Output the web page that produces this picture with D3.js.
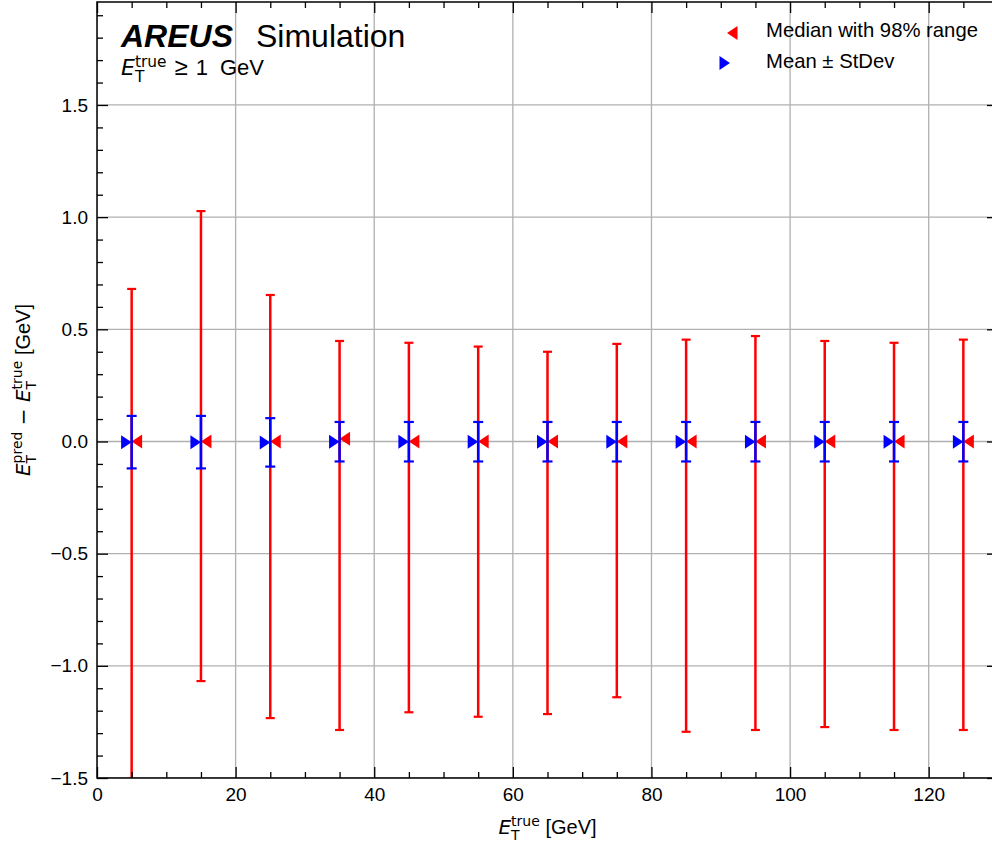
<!DOCTYPE html>
<html>
<head>
<meta charset="utf-8">
<script src="https://cdn.jsdelivr.net/npm/d3@7"></script>
<style>
  body { margin: 0; background: #fff; }
  svg { display: block; }
</style>
</head>
<body>
<div id="graph"></div>
<script>
// Data
const binCenters = [5, 15, 25, 35, 45, 55, 65, 75, 85, 95, 105, 115, 125];
const medianVals = [0.0, 0.0, 0.0, 0.012, 0.0, 0.0, 0.0, 0.0, 0.0, 0.0, 0.0, 0.0, 0.0];
const rangeLow = [-1.9, -1.068, -1.233, -1.286, -1.207, -1.227, -1.215, -1.140, -1.294, -1.286, -1.273, -1.286, -1.286];
const rangeHigh = [0.680, 1.027, 0.653, 0.448, 0.440, 0.423, 0.400, 0.435, 0.454, 0.470, 0.448, 0.440, 0.454];
const meanVals = [-0.003, -0.003, -0.004, -0.001, -0.001, -0.001, -0.001, -0.001, -0.001, -0.001, -0.001, -0.001, -0.001];
const stdVals = [0.117, 0.117, 0.108, 0.088, 0.088, 0.088, 0.088, 0.088, 0.088, 0.088, 0.088, 0.088, 0.088];

const xMajor = [0, 20, 40, 60, 80, 100, 120];
const xMinor = d3.range(0, 131, 5).filter(v => v % 20 !== 0);
const yMajor = [-1.5, -1.0, -0.5, 0.0, 0.5, 1.0, 1.5];
const yMinor = d3.range(-15, 20, 1).map(v => v / 10).filter(v => Math.abs(v * 2 - Math.round(v * 2)) > 1e-6);

const WIDTH = 992, HEIGHT = 843;
const plot = {left: 97, top: 2, right: 998, bottom: 778};
const TXT = "'Liberation Sans', Arial, Helvetica, sans-serif";
const MATH = "'DejaVu Sans', sans-serif";
const RED = "#ff0000", BLUE = "#0000ff";

let svg = d3.select("#graph")
    .append("svg")
    .attr("width", WIDTH)
    .attr("height", HEIGHT)
    .style("font-family", TXT);

svg.append("rect").attr("width", WIDTH).attr("height", HEIGHT).attr("fill", "white");

let x = d3.scaleLinear().domain([0, 130]).range([plot.left, plot.right]);
let y = d3.scaleLinear().domain([-1.5, 1.959]).range([plot.bottom, plot.top]);

svg.append("clipPath").attr("id", "clip")
    .append("rect")
    .attr("x", plot.left).attr("y", plot.top)
    .attr("width", plot.right - plot.left).attr("height", plot.bottom - plot.top);

// grid
let grid = svg.append("g").attr("clip-path", "url(#clip)");
grid.selectAll(".gx").data(xMajor).enter().append("line")
    .attr("x1", d => x(d)).attr("x2", d => x(d))
    .attr("y1", plot.top).attr("y2", plot.bottom)
    .attr("stroke", "#b0b0b0").attr("stroke-width", 1.3);
grid.selectAll(".gy").data(yMajor).enter().append("line")
    .attr("x1", plot.left).attr("x2", plot.right)
    .attr("y1", d => y(d)).attr("y2", d => y(d))
    .attr("stroke", "#b0b0b0").attr("stroke-width", 1.3);

const points = binCenters.map((c, i) => ({
    x: c, med: medianVals[i], lo: rangeLow[i], hi: rangeHigh[i],
    mean: meanVals[i], sd: stdVals[i]
}));

// marker shapes, tip sitting on the point
const mw = 10.5, mh = 14;
const caretLeft = `M0,0L${mw},${-mh / 2}L${mw},${mh / 2}Z`;
const caretRight = `M0,0L${-mw},${-mh / 2}L${-mw},${mh / 2}Z`;

function drawErrorBars(g, lo, hi, color, cap) {
    g.selectAll(".bar").data(points).enter().append("line")
        .attr("x1", d => x(d.x)).attr("x2", d => x(d.x))
        .attr("y1", d => y(lo(d))).attr("y2", d => y(hi(d)))
        .attr("stroke", color).attr("stroke-width", 2.5);
    [lo, hi].forEach(f => {
        g.selectAll(".cap").data(points).enter().append("line")
            .attr("x1", d => x(d.x) - cap).attr("x2", d => x(d.x) + cap)
            .attr("y1", d => y(f(d))).attr("y2", d => y(f(d)))
            .attr("stroke", color).attr("stroke-width", 2.2);
    });
}

let data = svg.append("g").attr("clip-path", "url(#clip)");

let redG = data.append("g");
drawErrorBars(redG, d => d.lo, d => d.hi, RED, 4.5);
redG.selectAll(".mk").data(points).enter().append("path")
    .attr("d", caretLeft)
    .attr("transform", d => `translate(${x(d.x)},${y(d.med)})`)
    .attr("fill", RED);

let blueG = data.append("g");
drawErrorBars(blueG, d => d.mean - d.sd, d => d.mean + d.sd, BLUE, 5);
blueG.selectAll(".mk").data(points).enter().append("path")
    .attr("d", caretRight)
    .attr("transform", d => `translate(${x(d.x)},${y(d.mean)})`)
    .attr("fill", BLUE);

// axes, ticks pointing inward on all four sides
function styleAxis(g) {
    g.select(".domain").remove();
    g.selectAll("line").attr("stroke", "black").attr("stroke-width", 1.3);
    g.selectAll("text").style("font-family", TXT).style("font-size", "19px").attr("fill", "black");
}

const fmtY = d => d3.format(".1f")(d).replace("-", "\u2212");

svg.append("g").attr("transform", `translate(0,${plot.bottom})`)
    .call(d3.axisBottom(x).tickValues(xMajor).tickSizeInner(-11).tickSizeOuter(0).tickPadding(10).tickFormat(d3.format("d")))
    .call(styleAxis);
svg.append("g").attr("transform", `translate(0,${plot.bottom})`)
    .call(d3.axisBottom(x).tickValues(xMinor).tickSize(-6).tickFormat(""))
    .call(styleAxis);
svg.append("g").attr("transform", `translate(0,${plot.top})`)
    .call(d3.axisTop(x).tickValues(xMajor).tickSize(-11).tickFormat(""))
    .call(styleAxis);
svg.append("g").attr("transform", `translate(0,${plot.top})`)
    .call(d3.axisTop(x).tickValues(xMinor).tickSize(-6).tickFormat(""))
    .call(styleAxis);

svg.append("g").attr("transform", `translate(${plot.left},0)`)
    .call(d3.axisLeft(y).tickValues(yMajor).tickSizeInner(-11).tickSizeOuter(0).tickPadding(9).tickFormat(fmtY))
    .call(styleAxis);
svg.append("g").attr("transform", `translate(${plot.left},0)`)
    .call(d3.axisLeft(y).tickValues(yMinor).tickSize(-6).tickFormat(""))
    .call(styleAxis);
svg.append("g").attr("transform", `translate(${plot.right},0)`)
    .call(d3.axisRight(y).tickValues(yMajor).tickSize(-11).tickFormat(""))
    .call(styleAxis);
svg.append("g").attr("transform", `translate(${plot.right},0)`)
    .call(d3.axisRight(y).tickValues(yMinor).tickSize(-6).tickFormat(""))
    .call(styleAxis);

svg.append("rect")
    .attr("x", plot.left).attr("y", plot.top)
    .attr("width", plot.right - plot.left).attr("height", plot.bottom - plot.top)
    .attr("fill", "none").attr("stroke", "black").attr("stroke-width", 1.5);

// E_T with sub and superscript, returns the dy that brings us back to the baseline
function addET(text, sup, fs) {
    const small = fs * 0.7;
    text.append("tspan").style("font-family", MATH).style("font-style", "italic").text("E");
    text.append("tspan").style("font-family", MATH).style("font-size", small + "px")
        .attr("dy", fs * 0.3).text("T");
    text.append("tspan").style("font-family", MATH).style("font-size", small + "px")
        .attr("dx", -small * 0.61).attr("dy", -fs * 0.68).text(sup);
    return fs * 0.38;
}

// x label
let xLab = svg.append("text")
    .attr("x", (plot.left + plot.right) / 2).attr("y", 834)
    .style("text-anchor", "middle").style("font-size", "20px");
let back = addET(xLab, "true", 20);
xLab.append("tspan").attr("dy", back).text(" [GeV]");

// y label
let yLab = svg.append("text")
    .attr("transform", `translate(30,${(plot.top + plot.bottom) / 2})rotate(-90)`)
    .style("text-anchor", "middle").style("font-size", "20px");
back = addET(yLab, "pred", 20);
yLab.append("tspan").attr("dy", back).style("font-family", MATH).text(" \u2212 ");
back = addET(yLab, "true", 20);
yLab.append("tspan").attr("dy", back).text(" [GeV]");

// experiment label
svg.append("text").attr("x", 121).attr("y", 47)
    .style("font-size", "32px").style("font-weight", "bold").style("font-style", "italic")
    .text("AREUS");
svg.append("text").attr("x", 256).attr("y", 47)
    .style("font-size", "32px")
    .text("Simulation");

let cut = svg.append("text").attr("x", 121).attr("y", 75).style("font-size", "22px");
back = addET(cut, "true", 22);
cut.append("tspan").attr("dy", back).attr("dx", 8).style("font-size", "24px").text("\u2265");
cut.append("tspan").attr("dx", 8).text("1");
cut.append("tspan").attr("dx", 12).text("GeV");

// legend
const legendItems = ["Median with 98% range", "Mean \u00b1 StDev"];
const legendColors = [RED, BLUE];
const legendShapes = [caretLeft, caretRight];
const legendTip = [727, 730];
let legend = svg.selectAll(".legend").data(legendItems).enter().append("g").attr("class", "legend");
legend.append("path")
    .attr("d", (d, i) => legendShapes[i])
    .attr("transform", (d, i) => `translate(${legendTip[i]},${33 + i * 30})`)
    .attr("fill", (d, i) => legendColors[i]);
legend.append("text")
    .attr("x", 766).attr("y", (d, i) => 37 + i * 30.5)
    .style("font-size", "20.3px")
    .text(d => d);
</script>
</body>
</html>
